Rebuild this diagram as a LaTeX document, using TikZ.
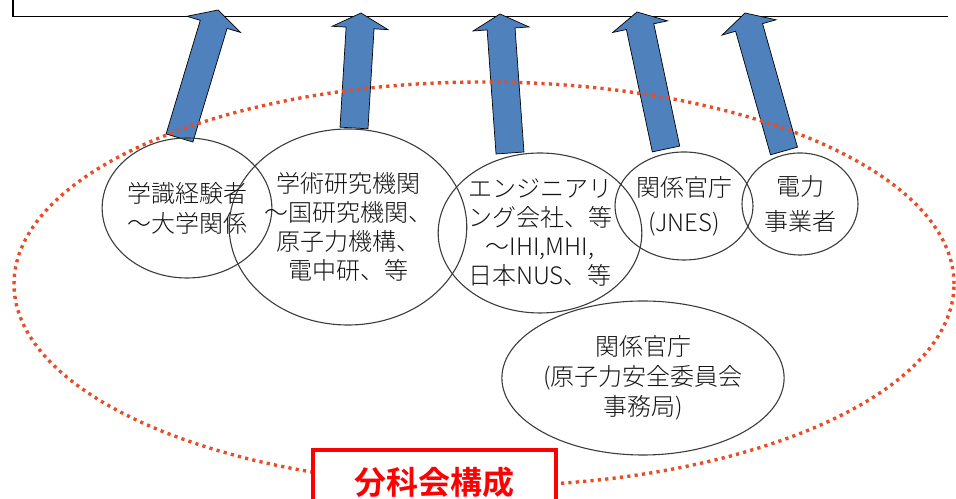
\documentclass[tikz,border=0pt]{standalone}
\usepackage{fontspec}
\setmainfont{Noto Sans CJK JP Light}[CharacterWidth=Proportional, BoldFont={Noto Sans CJK JP Bold}]
\newfontfamily\fw{Noto Sans CJK JP Light}
\newcommand\wave{{\fw ～}}
\usetikzlibrary{shapes.geometric,calc}
\definecolor{arrblue}{RGB}{79,129,189}
\definecolor{dotred}{RGB}{234,76,40}
\definecolor{txtgray}{RGB}{20,20,20}
\definecolor{circgray}{RGB}{60,60,60}
\tikzset{
  memb/.style={ellipse, draw=circgray, line width=1.1bp, inner sep=0pt, align=center, text=txtgray},
  blockarr/.style={fill=arrblue, draw=black, line width=0.7bp, line join=miter},
  dotline/.style={draw=dotred, line width=3.4bp, dash pattern=on 3.2bp off 4.2bp},
  redbox/.style={draw=red, line width=4.5bp, fill=white, text=red, inner sep=0pt},
  topline/.style={draw=black, line width=1.4bp}
}
\newcommand\blockarrow[2]{%
  \coordinate (#2-h) at ($(#2)!15bp!(#1)$);
  \draw[blockarr] ($(#1)!14bp!90:(#2)$) -- ($(#2-h)!14bp!90:(#2)$) -- ($(#2-h)!28bp!90:(#2)$)
    -- (#2) -- ($(#2-h)!28bp!-90:(#2)$) -- ($(#2-h)!14bp!-90:(#2)$) -- ($(#1)!14bp!-90:(#2)$) -- cycle;}
\begin{document}
\begin{tikzpicture}[x=1bp,y=1bp]
\useasboundingbox (0,0) rectangle (956,499);
% top box (mostly outside the picture)
\coordinate (topA) at (13,499);
\coordinate (topB) at (13,482.5);
\coordinate (topC) at (948,482.5);
\draw[topline] (topA) -- (topB) -- (topC);
% arrows from members to the top box
\coordinate (b1) at (179.5,361); \coordinate (t1) at (218,489);
\coordinate (b2) at (354,371);   \coordinate (t2) at (361,486);
\coordinate (b3) at (510,346);   \coordinate (t3) at (500,485);
\coordinate (b4) at (666,350);   \coordinate (t4) at (637,487);
\coordinate (b5) at (784,348);   \coordinate (t5) at (745,486);
\blockarrow{b1}{t1}
\blockarrow{b2}{t2}
\blockarrow{b3}{t3}
\blockarrow{b4}{t4}
\blockarrow{b5}{t5}
% dotted group ellipse
\draw[dotline] (484,215) ellipse [x radius=470, y radius=202];
% members
\node[memb, minimum width=138bp, minimum height=140bp, font=\fontsize{24bp}{30bp}\selectfont] (c1) at (187,291) {学識経験者\\\wave 大学関係};
\node[memb, minimum width=206bp, minimum height=196bp, font=\fontsize{24bp}{29bp}\selectfont] (c2) at (348,272) {学術研究機関\\\wave 国研究機関、\\原子力機構、\\電中研、等};
\node[memb, minimum width=196bp, minimum height=160bp, font=\fontsize{24bp}{29bp}\selectfont] (c3) at (540,266) {エンジニアリ\\ング会社、等\\\wave IHI,MHI,\\日本NUS、等};
\node[memb, minimum width=138bp, minimum height=108bp, font=\fontsize{24bp}{35bp}\selectfont] (c4) at (684,293) {関係官庁\\(JNES)};
\node[memb, minimum width=116bp, minimum height=102bp, font=\fontsize{24bp}{35bp}\selectfont] (c5) at (800,295) {電力\\事業者};
\node[memb, minimum width=220bp, minimum height=154bp, font=\fontsize{24bp}{30bp}\selectfont] (c6) at (643,121) {関係官庁\\(原子力安全委員会\\事務局)};
% title box
\node[redbox, minimum width=243bp, minimum height=64bp, font=\fontsize{32bp}{36bp}\selectfont\bfseries] (title) at (434.5,17) {分科会構成};
\end{tikzpicture}
\end{document}
